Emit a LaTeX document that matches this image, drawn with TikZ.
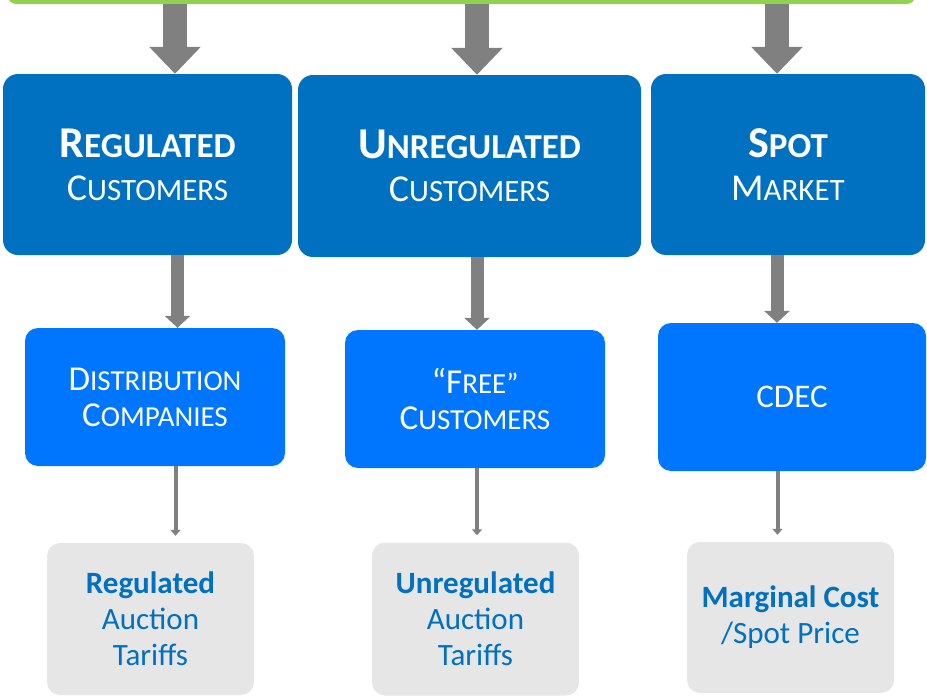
\documentclass[tikz,border=0pt]{standalone}
\usepackage{fontspec}
\setmainfont{Carlito}
\usetikzlibrary{arrows.meta}
\definecolor{darkblue}{RGB}{0,112,192}
\definecolor{midblue}{RGB}{0,118,255}
\definecolor{lightgray}{RGB}{231,230,230}
\definecolor{arrowgray}{RGB}{128,128,128}
\definecolor{topgreen}{RGB}{146,208,80}
\newcommand\bigsc[2]{{\bfseries\fontsize{44pt}{43pt}\selectfont #1\fontsize{35pt}{43pt}\selectfont #2}}
\newcommand\regsc[2]{{\fontsize{38pt}{43pt}\selectfont #1\fontsize{31pt}{43pt}\selectfont #2}}
\newcommand\midsc[2]{{\fontsize{35pt}{36pt}\selectfont #1\fontsize{29pt}{36pt}\selectfont #2}}
\tikzset{
  topbox/.style={fill=darkblue, draw=none, rounded corners=15pt, text=white, align=center,
    font=\fontsize{38pt}{43pt}\selectfont, inner sep=0pt},
  midbox/.style={fill=midblue, draw=none, rounded corners=13pt, text=white, align=center,
    font=\fontsize{33pt}{36pt}\selectfont, inner sep=0pt},
  botbox/.style={fill=lightgray, draw=none, rounded corners=13pt, text=darkblue, align=center,
    font=\fontsize{31pt}{36pt}\selectfont, inner sep=0pt},
  bigarrow/.style={draw=arrowgray, line width=24pt, -{Triangle[width=50pt,length=27pt]}},
  medarrow/.style={draw=arrowgray, line width=13pt, -{Triangle[width=25pt,length=12pt]}},
  thinarrow/.style={draw=arrowgray, line width=4pt, -{Triangle[width=10pt,length=6pt]}},
}
\begin{document}
\begin{tikzpicture}[x=1pt,y=-1pt]
\useasboundingbox (0,0) rectangle (927,696);
% green bar at top
\node[fill=topgreen, draw=none, rounded corners=8pt, minimum width=907pt, minimum height=30pt, inner sep=0pt] (green) at (461.5,-11) {};
% top boxes
\node[topbox, minimum width=289pt, minimum height=181pt] (r1) at (147.5,164.5)
  {\bigsc{R}{EGULATED}\\\regsc{C}{USTOMERS}};
\node[topbox, minimum width=343pt, minimum height=182pt] (r2) at (469.5,166)
  {\bigsc{U}{NREGULATED}\\\regsc{C}{USTOMERS}};
\node[topbox, minimum width=274pt, minimum height=181pt] (r3) at (788,164.5)
  {\bigsc{S}{POT}\\\regsc{M}{ARKET}};
% middle boxes
\node[midbox, minimum width=260pt, minimum height=138pt] (m1) at (155,397)
  {\midsc{D}{ISTRIBUTION}\\\midsc{C}{OMPANIES}};
\node[midbox, minimum width=260pt, minimum height=138pt] (m2) at (475,399)
  {\midsc{“F}{REE”}\\\midsc{C}{USTOMERS}};
\node[midbox, minimum width=268pt, minimum height=148pt] (m3) at (792,397)
  {CDEC};
% bottom boxes
\node[botbox, minimum width=207pt, minimum height=152pt] (b1) at (150.5,619)
  {\textbf{Regulated}\\Auction\\Tariffs};
\node[botbox, minimum width=207pt, minimum height=153pt] (b2) at (475.5,619)
  {\textbf{Unregulated}\\Auction\\Tariffs};
\node[botbox, minimum width=207pt, minimum height=151pt] (b3) at (790.5,617.5)
  {\textbf{Marginal Cost}\\/Spot Price};
% big arrows from top bar
\coordinate (t1) at (175,4);
\coordinate (t2) at (477,4);
\coordinate (t3) at (777,4);
\draw[bigarrow] (t1) -- (t1 |- r1.north);
\draw[bigarrow] (t2) -- (t2 |- r2.north);
\draw[bigarrow] (t3) -- (t3 |- r3.north);
% medium arrows
\coordinate (u1) at (177.5,0);
\coordinate (u2) at (477,0);
\coordinate (u3) at (777,0);
\draw[medarrow] (u1 |- r1.south) -- (u1 |- m1.north);
\draw[medarrow] (u2 |- r2.south) -- (u2 |- m2.north);
\draw[medarrow] (u3 |- r3.south) -- (u3 |- m3.north);
% thin arrows
\coordinate (v1) at (175.5,0);
\coordinate (v2) at (477,0);
\coordinate (v3) at (777.5,0);
\draw[thinarrow] (v1 |- m1.south) -- ([yshift=7pt]v1 |- b1.north);
\draw[thinarrow] (v2 |- m2.south) -- ([yshift=7pt]v2 |- b2.north);
\draw[thinarrow] (v3 |- m3.south) -- ([yshift=7pt]v3 |- b3.north);
\end{tikzpicture}
\end{document}
